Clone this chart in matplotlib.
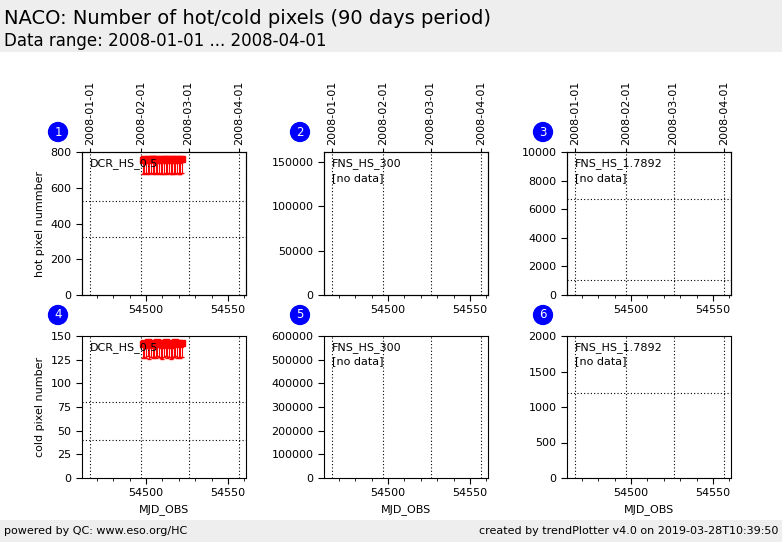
import matplotlib
matplotlib.use("Agg")
import matplotlib.pyplot as plt
from matplotlib.ticker import MultipleLocator
from matplotlib.patches import Rectangle

W, H = 782, 542
fig = plt.figure(figsize=(W/100, H/100), dpi=100)

title = "NACO: Number of hot/cold pixels (90 days period)"
subtitle = "Data range: 2008-01-01 ... 2008-04-01"
footer_left = "powered by QC: www.eso.org/HC"
footer_right = "created by trendPlotter v4.0 on 2019-03-28T10:39:50"

date_labels = ["2008-01-01", "2008-02-01", "2008-03-01", "2008-04-01"]
date_mjd = [54466, 54497, 54526, 54557]
xlim = (54461, 54561)

# data for DCR_HS_0.5
mjd_obs = [54498, 54499, 54500, 54501, 54502, 54503, 54504, 54505, 54506, 54507,
           54508, 54509, 54510, 54511, 54512, 54513, 54514, 54515, 54516, 54517,
           54518, 54519, 54520, 54521, 54522]
hot_vals = [755, 760, 758, 762, 757, 760, 759, 761, 756, 760,
            758, 762, 757, 759, 761, 758, 760, 757, 759, 762,
            758, 760, 757, 759, 761]
cold_vals = [142, 143, 142, 144, 141, 143, 142, 143, 142, 144,
             143, 142, 141, 143, 144, 142, 143, 141, 142, 143,
             144, 142, 143, 142, 143]

panels = [
    dict(num=1, label="DCR_HS_0.5", ylim=(0, 800), yticks=[0, 200, 400, 600, 800],
         hlines=[525, 323], data="hot", ylabel="hot pixel nummber"),
    dict(num=2, label="FNS_HS_300\n[no data]", ylim=(0, 161000), yticks=[0, 50000, 100000, 150000],
         hlines=[], data=None, ylabel=None),
    dict(num=3, label="FNS_HS_1.7892\n[no data]", ylim=(0, 10000), yticks=[0, 2000, 4000, 6000, 8000, 10000],
         hlines=[6700, 1030], data=None, ylabel=None),
    dict(num=4, label="DCR_HS_0.5", ylim=(0, 150), yticks=[0, 25, 50, 75, 100, 125, 150],
         hlines=[80, 40], data="cold", ylabel="cold pixel number"),
    dict(num=5, label="FNS_HS_300\n[no data]", ylim=(0, 600000),
         yticks=[0, 100000, 200000, 300000, 400000, 500000, 600000],
         hlines=[], data=None, ylabel=None),
    dict(num=6, label="FNS_HS_1.7892\n[no data]", ylim=(0, 2000), yticks=[0, 500, 1000, 1500, 2000],
         hlines=[1200, 0], data=None, ylabel=None),
]

col_x = [82, 324, 567]
ax_w = 164
row_y = [(152, 295), (336, 478)]

# header / footer bands
fig.patches.append(Rectangle((0, 1 - 52/H), 1, 52/H, transform=fig.transFigure,
                             facecolor="#eeeeee", edgecolor="none", zorder=0))
fig.patches.append(Rectangle((0, 0), 1, 22/H, transform=fig.transFigure,
                             facecolor="#eeeeee", edgecolor="none", zorder=0))
fig.text(4/W, 1 - 18/H, title, fontsize=14, va="center", ha="left")
fig.text(4/W, 1 - 41/H, subtitle, fontsize=12, va="center", ha="left")
fig.text(4/W, 11/H, footer_left, fontsize=8, va="center", ha="left")
fig.text(778/W, 11/H, footer_right, fontsize=8, va="center", ha="right")

for i, p in enumerate(panels):
    r, c = divmod(i, 3)
    x0 = col_x[c]
    yt, yb = row_y[r]
    ax = fig.add_axes([x0/W, 1 - yb/H, ax_w/W, (yb - yt)/H])
    ax.set_xlim(*xlim)
    ax.set_ylim(*p["ylim"])
    ax.set_yticks(p["yticks"])
    ax.xaxis.set_major_locator(MultipleLocator(50))
    ax.xaxis.set_minor_locator(MultipleLocator(10))
    ax.tick_params(axis="both", labelsize=8, direction="out", length=4)
    ax.tick_params(axis="x", which="minor", length=2)
    ax.tick_params(axis="x", top=False)
    for yv in p["hlines"]:
        ax.axhline(yv, color="black", linestyle=(0, (1, 2)), linewidth=0.8, zorder=1)
    for xv in date_mjd:
        ax.axvline(xv, color="black", linestyle=(0, (1, 2)), linewidth=0.8, zorder=1)
    if p["data"] is not None:
        vals = hot_vals if p["data"] == "hot" else cold_vals
        span = p["ylim"][1]
        lo = [0.10 * span] * len(vals)
        hi = [0.005 * span] * len(vals)
        ax.errorbar(mjd_obs, vals, yerr=[lo, hi], fmt="s", color="red", markersize=5,
                    elinewidth=0.8, capsize=1.5, zorder=3)
    ax.text(0.05, 0.96, p["label"], transform=ax.transAxes, fontsize=8,
            va="top", ha="left", linespacing=1.5, zorder=4)
    if p["ylabel"]:
        ax.set_ylabel(p["ylabel"], fontsize=8)
    if r == 1:
        ax.set_xlabel("MJD_OBS", fontsize=8)
    if r == 0:
        # top date axis
        axt = ax.twiny()
        axt.set_xlim(*xlim)
        axt.set_xticks(date_mjd)
        axt.set_xticklabels(date_labels, rotation=90, fontsize=8)
        axt.tick_params(axis="x", length=3, pad=2)
    # numbered blue circle
    cx = x0 - 24
    cy = yt - 20 if r == 0 else yt - 21
    fig.text(cx/W, 1 - cy/H, str(p["num"]), fontsize=8.5, color="white",
             ha="center", va="center",
             bbox=dict(boxstyle="circle,pad=0.25", facecolor="blue", edgecolor="blue"))

fig.savefig("out.png", dpi=100)
